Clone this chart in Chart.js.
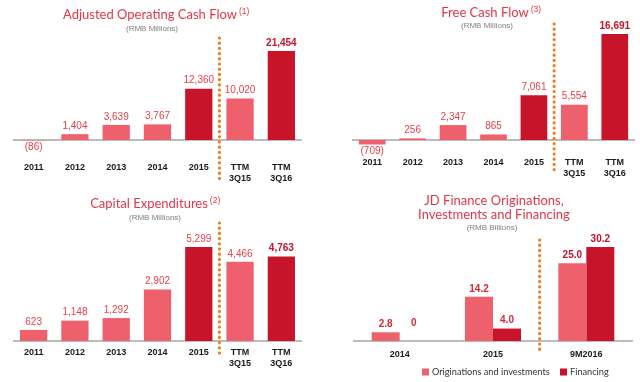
<!DOCTYPE html>
<html><head><meta charset="utf-8">
<script src="https://cdn.jsdelivr.net/npm/chart.js@4"></script>
<style>
html,body{margin:0;padding:0;background:#fff;width:640px;height:382px;overflow:hidden}
.p{position:absolute}
</style></head><body>
<div class="p" style="left:0;top:0;width:320px;height:190px"><canvas id="c1"></canvas></div>
<div class="p" style="left:320px;top:0;width:320px;height:190px"><canvas id="c2"></canvas></div>
<div class="p" style="left:0;top:190px;width:320px;height:192px"><canvas id="c3"></canvas></div>
<div class="p" style="left:320px;top:190px;width:320px;height:192px"><canvas id="c4"></canvas></div>
<script>
// ---- data ----
const yearCats = ['2011','2012','2013','2014','2015',['TTM','3Q15'],['TTM','3Q16']];
const opCashFlow = [-86,1404,3639,3767,12360,10020,21454];
const freeCashFlow = [-709,256,2347,865,7061,5554,16691];
const capex = [623,1148,1292,2902,5299,4466,4763];
const financeCats = ['2014','2015','9M2016'];
const originations = [2.8,14.2,25.0];
const financing = [0,4.0,30.2];
const financeSeries = ['Originations and investments','Financing'];
const titles = {
  op: {lines:['Adjusted Operating Cash Flow'], note:'(1)', sub:'(RMB Millions)'},
  fcf:{lines:['Free Cash Flow'], note:'(3)', sub:'(RMB Millions)'},
  cap:{lines:['Capital Expenditures'], note:'(2)', sub:'(RMB Millions)'},
  fin:{lines:['JD Finance Originations,','Investments and Financing'], note:'', sub:'(RMB Billions)'}
};

// ---- styles ----
const LIGHT = '#ee606c', DARK = '#c8142a';
const LBL_LIGHT = '#e63e4b', LBL_DARK = '#c3122a';
const TITLE_C = '#e3364a', SUB_C = '#808080', DOT_C = '#f07a1c';
const darkIdx = [4,6];

function fmtInt(v){ const s = Math.abs(v).toLocaleString('en-US'); return v<0 ? '('+s+')' : s; }
function fmtDec(v){ return v===0 ? '0' : v.toFixed(1); }

function decoPlugin(o){
  return {
    id:'deco',
    beforeDatasetsDraw(chart){
      const c = chart.ctx, a = chart.chartArea, y0 = chart.scales.y.getPixelForValue(0);
      c.save(); c.strokeStyle = '#a6a6a6'; c.lineWidth = 1.5;
      c.beginPath(); c.moveTo(a.left, y0); c.lineTo(a.right, y0); c.stroke(); c.restore();
    },
    afterDatasetsDraw(chart){
      const c = chart.ctx, xs = chart.scales.x, y0 = chart.scales.y.getPixelForValue(0);
      c.save();
      // dotted separator
      const xd = (xs.getPixelForValue(o.sepAfter) + xs.getPixelForValue(o.sepAfter+1))/2;
      c.strokeStyle = DOT_C; c.lineWidth = 3.2; c.lineCap = 'round'; c.setLineDash([0,5.2]);
      c.beginPath(); c.moveTo(xd, o.sepTop); c.lineTo(xd, o.sepBot); c.stroke();
      c.setLineDash([]);
      // value labels
      chart.data.datasets.forEach((ds, di) => {
        const meta = chart.getDatasetMeta(di);
        meta.data.forEach((bar, i) => {
          const v = ds.data[i];
          const st = o.labelStyle(di, i);
          c.font = st.weight + ' ' + o.lblSize + 'px "Liberation Sans", Arial, sans-serif';
          c.fillStyle = st.color; c.textAlign = 'center'; c.textBaseline = 'middle';
          let y;
          if (v < 0) y = bar.y + 6.5;
          else if (v === 0) y = y0 - 18;
          else y = bar.y - 8;
          c.fillText(o.fmt(v), bar.x, y);
        });
      });
      // titles
      const t = o.title;
      c.textBaseline = 'middle'; c.textAlign = 'left';
      t.lines.forEach((ln, k) => {
        c.font = o.titleSize + 'px Lato, "Noto Sans", sans-serif';
        const w = c.measureText(ln).width;
        const x = o.titleX - w/2, y = o.titleY + k*o.titleLH;
        c.fillStyle = TITLE_C;
        c.fillText(ln, x, y);
        if (t.note && k === t.lines.length-1){
          c.font = '8.5px "Liberation Sans", Arial, sans-serif';
          c.fillText(t.note, x + w + 2, y - 3);
        }
      });
      c.textAlign = 'center';
      c.font = '8px "Liberation Sans", Arial, sans-serif';
      c.fillStyle = SUB_C;
      c.fillText(t.sub, o.subX, o.subY);
      // legend (manual)
      if (o.legend){
        c.textAlign = 'left';
        c.font = '9.2px Lato, "Noto Sans", sans-serif';
        o.legend.forEach((L, k) => {
          const ds = chart.data.datasets[k];
          c.fillStyle = ds.backgroundColor;
          c.fillRect(L.x, o.legendY - 3.5, 7, 7);
          c.fillStyle = '#333';
          c.fillText(ds.label, L.x + 10, o.legendY + 0.5);
        });
      }
      c.restore();
    }
  };
}

function makeYearChart(id, values, o){
  return new Chart(document.getElementById(id), {
    type:'bar',
    data:{ labels: yearCats, datasets:[{
      data: values,
      backgroundColor: values.map((_, i) => darkIdx.includes(i) ? DARK : LIGHT),
      borderWidth:0, barPercentage:0.66, categoryPercentage:1
    }]},
    options:{
      responsive:true, maintainAspectRatio:false, animation:false,
      layout:{padding:{top:o.top, left:o.left, right:o.right, bottom:0}},
      plugins:{legend:{display:false}, tooltip:{enabled:false}},
      scales:{
        y:{display:false, min:o.min, max:o.max},
        x:{
          grid:{display:false, drawTicks:false}, border:{display:false},
          ticks:{autoSkip:false, maxRotation:0, padding:o.tickPad, color:'#1a1a1a',
                 font:{family:'"Liberation Sans", Arial, sans-serif', size:9, weight:'bold', lineHeight:1.2}},
          afterFit(s){ s.height = o.xH; }
        }
      }
    },
    plugins:[decoPlugin(Object.assign({
      fmt: fmtInt, lblSize: 10,
      labelStyle: (di, i) => i === values.length-1 ? {weight:'bold', color:LBL_DARK} : {weight:'normal', color:LBL_LIGHT}
    }, o))]
  });
}

makeYearChart('c1', opCashFlow, {
  top:45, left:13, right:18, xH:45, min:-1200, max:22900, tickPad:17,
  sepAfter:4, sepTop:38, sepBot:182,
  title:titles.op, titleSize:13, titleX:150, titleY:15, titleLH:14, subX:152, subY:29
});
makeYearChart('c2', freeCashFlow, {
  top:30, left:32, right:5, xH:44, min:-945, max:17320, tickPad:11,
  sepAfter:4, sepTop:24, sepBot:173,
  title:titles.fcf, titleSize:13, titleX:165, titleY:13, titleLH:14, subX:167, subY:26
});
makeYearChart('c3', capex, {
  top:40, left:13, right:18, xH:41, min:0, max:6257, tickPad:6,
  sepAfter:4, sepTop:33, sepBot:165,
  title:titles.cap, titleSize:13, titleX:149, titleY:14, titleLH:14, subX:155, subY:28
});

new Chart(document.getElementById('c4'), {
  type:'bar',
  data:{ labels: financeCats, datasets:[
    {label:financeSeries[0], data:originations, backgroundColor:LIGHT, borderWidth:0, barPercentage:1, categoryPercentage:0.6},
    {label:financeSeries[1], data:financing, backgroundColor:DARK, borderWidth:0, barPercentage:1, categoryPercentage:0.6}
  ]},
  options:{
    responsive:true, maintainAspectRatio:false, animation:false,
    layout:{padding:{top:40, left:33, right:7, bottom:0}},
    plugins:{legend:{display:false}, tooltip:{enabled:false}},
    scales:{
      y:{display:false, min:0, max:35.66},
      x:{
        grid:{display:false, drawTicks:false}, border:{display:false},
        ticks:{autoSkip:false, maxRotation:0, padding:8, color:'#1a1a1a',
               font:{family:'"Liberation Sans", Arial, sans-serif', size:9, weight:'bold'}},
        afterFit(s){ s.height = 41; }
      }
    }
  },
  plugins:[decoPlugin({
    fmt: fmtDec, lblSize: 10,
    labelStyle: (di, i) => ({weight:'bold', color: i === financeCats.length-1 ? LBL_DARK : '#d8283a'}),
    sepAfter:1, sepTop:50, sepBot:163,
    title:titles.fin, titleSize:13, titleX:174, titleY:11, titleLH:14, subX:172, subY:38,
    legend:[{x:102},{x:240}], legendY:182
  })]
});
</script>
</body></html>
